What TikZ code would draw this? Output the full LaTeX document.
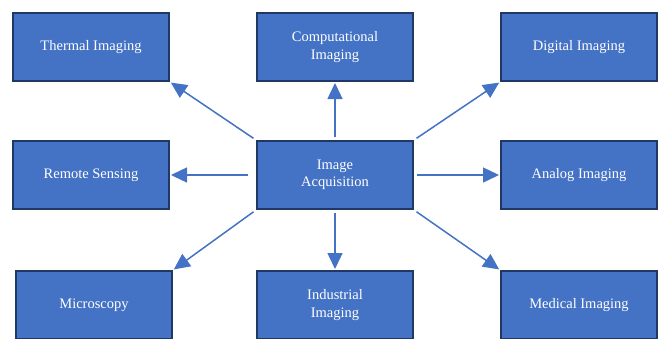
\documentclass[tikz,border=0pt]{standalone}
\usepackage{fontspec}
\setmainfont{Liberation Serif}
\usetikzlibrary{arrows.meta, positioning}
\definecolor{boxblue}{HTML}{4472C4}
\definecolor{boxedge}{HTML}{1F3864}
\tikzstyle{imgbox} = [
  rectangle, minimum width=156pt, minimum height=68pt,
  text centered, align=center, draw=boxedge, line width=2pt,
  fill=boxblue, text=white
]
\tikzset{
  arrow/.style={
    draw=boxblue, line width=1.5pt,
    -{Triangle[length=16pt,width=15pt]},
    shorten <=3pt, shorten >=1pt
  }
}
\begin{document}
\begin{tikzpicture}[
  x=1pt, y=-1pt,
  node distance=58pt and 86pt,
  font=\fontsize{14.5}{17.5}\selectfont
]
\useasboundingbox (0,0) rectangle (664,338);

% ------------------------------------------------
% CENTRO
% ------------------------------------------------

\node[imgbox] (ia) at (335,175) {Image\\Acquisition};

% ------------------------------------------------
% FILA CENTRAL
% ------------------------------------------------

\node[imgbox, left=of ia] (rs) {Remote Sensing};
\node[imgbox, right=of ia] (an) {Analog Imaging};

% ------------------------------------------------
% FILA 1 (arriba)
% ------------------------------------------------

\node[imgbox, above=of rs] (th) {Thermal Imaging};
\node[imgbox, above=of ia] (co) {Computational\\Imaging};
\node[imgbox, above=of an] (di) {Digital Imaging};

% ------------------------------------------------
% FILA 3 (abajo)
% ------------------------------------------------

\node[imgbox, below=60pt of rs, xshift=3pt] (mi) {Microscopy};
\node[imgbox, below=60pt of ia] (in) {Industrial\\Imaging};
\node[imgbox, below=60pt of an] (me) {Medical Imaging};

% ------------------------------------------------
% FLECHAS
% ------------------------------------------------

\draw[arrow] (ia.north west) -- (th.south east);
\draw[arrow] (ia.north) -- (co.south);
\draw[arrow] (ia.north east) -- (di.south west);

\draw[arrow, shorten <=8pt] (ia.west) -- (rs.east);
\draw[arrow] (ia.east) -- (an.west);

\draw[arrow] (ia.south west) -- (mi.north east);
\draw[arrow] (ia.south) -- (in.north);
\draw[arrow] (ia.south east) -- (me.north west);

\end{tikzpicture}
\end{document}
